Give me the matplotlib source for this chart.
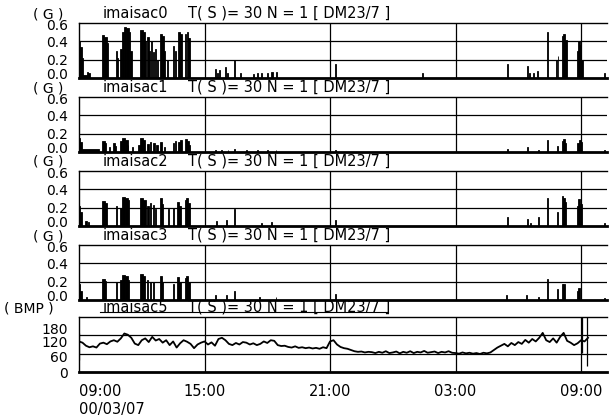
# Activity (G) of four accelerometers and heart rate over one day, stacked panels

import matplotlib
matplotlib.use('Agg')
import matplotlib.pyplot as plt
import matplotlib.transforms as mtransforms
import numpy as np

plt.rcParams['font.family'] = ['DejaVu Sans']

T_START = 9.0      # 09:00 on 00/03/07, hours
T_END = 34.24

# activity bursts per sensor: start hour, width (h), level (G)
acc0_t = [9.00, 9.06, 9.12, 9.20, 9.38, 9.43, 10.10, 10.20, 10.32, 10.76, 10.82, 10.96, 11.04, 11.14,
          11.26, 11.38, 11.46, 11.92, 12.04, 12.16, 12.25, 12.35, 12.44, 12.54, 12.62, 12.72, 12.87,
          12.95, 13.05, 13.20, 13.49, 13.58, 13.73, 13.83, 14.07, 14.15, 14.23, 15.50, 15.62, 15.70,
          15.98, 16.06, 16.40, 16.70, 17.30, 17.50, 17.72, 18.00, 18.20, 18.42, 21.22, 25.40, 29.44,
          30.40, 30.50, 30.70, 30.90, 31.35, 31.80, 31.88, 32.08, 32.16, 32.24, 32.80, 32.86, 32.96,
          33.02, 34.12]
acc0_w = [0.06, 0.06, 0.08, 0.16, 0.05, 0.08, 0.10, 0.12, 0.06, 0.04, 0.05, 0.08, 0.10, 0.12,
          0.12, 0.08, 0.05, 0.12, 0.12, 0.06, 0.10, 0.06, 0.04, 0.05, 0.06, 0.04, 0.08,
          0.10, 0.05, 0.05, 0.06, 0.05, 0.08, 0.10, 0.06, 0.08, 0.06, 0.05, 0.04, 0.05,
          0.04, 0.05, 0.04, 0.04, 0.05, 0.05, 0.04, 0.05, 0.05, 0.04, 0.05, 0.04, 0.05,
          0.05, 0.04, 0.05, 0.05, 0.06, 0.04, 0.04, 0.08, 0.08, 0.08, 0.06, 0.10, 0.06,
          0.06, 0.04]
acc0_v = [0.40, 0.34, 0.22, 0.03, 0.07, 0.05, 0.47, 0.45, 0.38, 0.30, 0.22, 0.32, 0.50, 0.56,
          0.54, 0.50, 0.30, 0.52, 0.50, 0.40, 0.45, 0.30, 0.40, 0.28, 0.32, 0.20, 0.48,
          0.46, 0.30, 0.20, 0.35, 0.30, 0.50, 0.48, 0.48, 0.50, 0.44, 0.10, 0.06, 0.09,
          0.12, 0.06, 0.20, 0.05, 0.04, 0.06, 0.05, 0.05, 0.07, 0.07, 0.15, 0.05, 0.15,
          0.13, 0.06, 0.05, 0.08, 0.50, 0.20, 0.24, 0.46, 0.48, 0.42, 0.30, 0.40, 0.36,
          0.20, 0.05]

acc1_t = [9.00, 9.06, 9.14, 10.10, 10.24, 10.45, 10.62, 10.70, 10.96, 11.06, 11.20, 11.32, 11.55,
          11.82, 11.92, 12.04, 12.25, 12.40, 12.54, 12.70, 12.87, 13.05, 13.49, 13.58, 13.73, 13.85,
          14.07, 14.17, 14.25, 15.50, 15.80, 16.10, 16.40, 17.00, 17.50, 18.00, 18.40, 21.24, 29.46,
          30.42, 30.95, 31.37, 31.85, 32.08, 32.16, 32.24, 32.82, 32.90, 33.00, 34.12]
acc1_w = [0.06, 0.08, 0.80, 0.14, 0.06, 0.05, 0.08, 0.05, 0.10, 0.14, 0.12, 0.04, 0.05,
          0.08, 0.12, 0.10, 0.08, 0.06, 0.10, 0.06, 0.10, 0.05, 0.06, 0.04, 0.08, 0.06,
          0.10, 0.08, 0.04, 0.04, 0.04, 0.04, 0.04, 0.04, 0.04, 0.04, 0.04, 0.04, 0.04,
          0.05, 0.04, 0.06, 0.05, 0.08, 0.08, 0.06, 0.08, 0.10, 0.06, 0.04]
acc1_v = [0.15, 0.11, 0.03, 0.12, 0.10, 0.06, 0.10, 0.07, 0.12, 0.15, 0.13, 0.08, 0.05,
          0.08, 0.15, 0.13, 0.09, 0.11, 0.10, 0.08, 0.11, 0.06, 0.10, 0.12, 0.11, 0.13,
          0.14, 0.12, 0.08, 0.02, 0.025, 0.02, 0.03, 0.02, 0.02, 0.025, 0.02, 0.02, 0.035,
          0.05, 0.025, 0.13, 0.07, 0.12, 0.145, 0.10, 0.10, 0.13, 0.11, 0.02]

acc2_t = [9.00, 9.06, 9.30, 9.42, 10.10, 10.22, 10.76, 10.96, 11.04, 11.18, 11.32, 11.92, 12.06,
          12.25, 12.40, 12.54, 12.62, 12.87, 12.97, 13.25, 13.50, 13.70, 13.80, 14.05, 14.13, 14.23,
          15.55, 16.05, 16.40, 17.70, 18.20, 21.24, 29.46, 30.40, 30.55, 30.92, 31.35, 31.85, 32.08,
          32.16, 32.24, 32.80, 32.86, 32.96, 34.12]
acc2_w = [0.06, 0.08, 0.06, 0.06, 0.12, 0.10, 0.05, 0.08, 0.14, 0.14, 0.08, 0.14, 0.12,
          0.08, 0.05, 0.06, 0.05, 0.10, 0.06, 0.06, 0.06, 0.10, 0.08, 0.08, 0.10, 0.06,
          0.04, 0.04, 0.04, 0.04, 0.04, 0.05, 0.05, 0.05, 0.06, 0.05, 0.06, 0.05, 0.08,
          0.08, 0.06, 0.06, 0.10, 0.08, 0.04]
acc2_v = [0.22, 0.15, 0.05, 0.04, 0.27, 0.25, 0.22, 0.20, 0.32, 0.30, 0.28, 0.30, 0.28,
          0.22, 0.25, 0.23, 0.18, 0.30, 0.24, 0.18, 0.20, 0.26, 0.22, 0.28, 0.30, 0.25,
          0.05, 0.06, 0.18, 0.03, 0.04, 0.06, 0.10, 0.08, 0.03, 0.10, 0.31, 0.15, 0.33,
          0.30, 0.26, 0.22, 0.29, 0.24, 0.03]

acc3_t = [9.00, 9.06, 9.35, 10.10, 10.22, 10.76, 10.96, 11.04, 11.18, 11.32, 11.92, 12.06, 12.25,
          12.40, 12.54, 12.87, 12.97, 13.50, 13.70, 13.80, 14.05, 14.13, 14.23, 15.50, 16.05, 16.40,
          17.60, 18.40, 21.24, 29.40, 30.36, 30.92, 31.35, 31.85, 32.08, 32.16, 32.80, 32.86, 34.12]
acc3_w = [0.06, 0.06, 0.05, 0.12, 0.08, 0.05, 0.08, 0.14, 0.14, 0.08, 0.14, 0.10, 0.06,
          0.06, 0.06, 0.10, 0.05, 0.05, 0.10, 0.06, 0.08, 0.10, 0.06, 0.04, 0.04, 0.04,
          0.04, 0.04, 0.05, 0.05, 0.05, 0.05, 0.06, 0.05, 0.08, 0.08, 0.06, 0.10, 0.04]
acc3_v = [0.17, 0.10, 0.03, 0.23, 0.21, 0.20, 0.22, 0.27, 0.26, 0.22, 0.28, 0.26, 0.22,
          0.20, 0.20, 0.26, 0.20, 0.18, 0.25, 0.20, 0.24, 0.26, 0.20, 0.05, 0.05, 0.10,
          0.03, 0.03, 0.065, 0.06, 0.06, 0.03, 0.23, 0.12, 0.18, 0.17, 0.10, 0.13, 0.02]

# heart rate (BMP), one reading every 10 min from 09:00
HR_STEP = 1 / 6
hr = [100, 96, 86, 81, 84, 80,
      93, 96, 91, 100, 104, 99,
      110, 126, 122, 112, 93, 88,
      104, 110, 98, 115, 103, 108,
      96, 104, 88, 100, 80, 94,
      104, 99, 92, 78, 90, 96,
      100, 90, 97, 86, 108, 112,
      104, 92, 88, 95, 90, 98,
      96, 90, 94, 88, 92, 100,
      95, 104, 102, 88, 85, 86,
      82, 80, 84, 79, 81, 78,
      80, 77, 79, 76, 81, 78,
      100, 104, 90, 82, 78, 76,
      72, 68, 66, 67, 64, 66,
      65, 62, 66, 63, 68, 62,
      64, 67, 61, 66, 63, 68,
      62, 66, 64, 69, 63, 65,
      67, 62, 66, 64, 68, 63,
      62, 60, 64, 61, 63, 60,
      62, 59, 63, 61, 64, 72,
      80, 86, 92, 84, 95, 88,
      98, 92, 105, 96, 108, 100,
      112, 128, 104, 98, 110, 96,
      115, 128, 102, 96, 88, 94,
      104, 100, 112]
# sensor dropouts seen as vertical strokes
hr_drop_t = [9.02, 33.03, 33.27]
hr_drop_lo = [40, 63, 20]
hr_drop_hi = [128, 180, 180]

G_TICKS = [0.0, 0.2, 0.4, 0.6]
G_LABELS = ['0.0', '0.2', '0.4', '0.6']
BMP_TICKS = [0, 60, 120, 180]
BMP_LABELS = ['0', '60', '120', '180']
HOUR_TICKS = [9, 15, 21, 27, 33]
HOUR_LABELS = ['09:00\n00/03/07', '15:00', '21:00', '03:00', '09:00']

ACC_PANELS = [
    ('imaisac0', acc0_t, acc0_w, acc0_v),
    ('imaisac1', acc1_t, acc1_w, acc1_v),
    ('imaisac2', acc2_t, acc2_w, acc2_v),
    ('imaisac3', acc3_t, acc3_w, acc3_v),
]
PARAMS = 'T( S )= 30 N = 1 [ DM23/7 ]'

W, H = 612, 416
PANEL_TOPS = [23, 97, 171, 245, 317]
PANEL_H = 55
LEFT, RIGHT = 79, 607
FS = 10.5
# the printed labels are squeezed together, shift in pixels (down +)
G_SHIFT = [-4.5, 0, 0, 2]
BMP_SHIFT = [0, 3, 6, 11]


def make_axes(fig, top):
    ax = fig.add_axes([LEFT / W, 1 - (top + PANEL_H) / H, (RIGHT - LEFT) / W, PANEL_H / H])
    ax.set_xlim(T_START, T_END)
    ax.spines['right'].set_visible(False)
    ax.spines['left'].set_linewidth(1.0)
    ax.spines['top'].set_linewidth(1.0)
    ax.spines['bottom'].set_linewidth(2.0)
    ax.tick_params(length=0, labelsize=FS, pad=8)
    ax.set_xticks(HOUR_TICKS[1:])
    ax.set_xticklabels([])
    for h in HOUR_TICKS[1:]:
        ax.axvline(h, color='black', lw=0.9, zorder=1)
    return ax


def set_ylabels(ax, ticks, labels, shifts):
    ax.set_yticks(ticks)
    ax.set_yticklabels(labels, fontsize=10, va='center_baseline')
    for lab, dy in zip(ax.get_yticklabels(), shifts):
        off = mtransforms.ScaledTranslation(0, -dy / 100, ax.figure.dpi_scale_trans)
        lab.set_transform(lab.get_transform() + off)


def label_panel(ax, unit, name, top, unit_x):
    y = 1 - (top - 10) / H
    ax.figure.text(unit_x / W, 1 - (top - 9) / H, unit, fontsize=10, ha='left', va='center')
    ax.figure.text(103 / W, y, name, fontsize=FS, ha='left', va='center')
    ax.figure.text(188 / W, y, PARAMS, fontsize=FS, ha='left', va='center')


def main():
    fig = plt.figure(figsize=(W / 100, H / 100), dpi=100)

    for i, (name, t, w, v) in enumerate(ACC_PANELS):
        top = PANEL_TOPS[i]
        ax = make_axes(fig, top)
        ax.set_ylim(0, 0.6)
        set_ylabels(ax, G_TICKS, G_LABELS, G_SHIFT)
        for g in G_TICKS[1:-1]:
            ax.axhline(g, color='black', lw=0.9, zorder=1)
        ax.bar(t, v, width=w, align='edge', color='black', edgecolor='black',
               linewidth=0.6, zorder=2)
        label_panel(ax, '( G )', name, top, 33)

    # heart rate panel
    top = PANEL_TOPS[4]
    ax = make_axes(fig, top)
    ax.set_ylim(0, 180)
    set_ylabels(ax, BMP_TICKS, BMP_LABELS, BMP_SHIFT)
    for g in BMP_TICKS[1:-1]:
        ax.axhline(g, color='black', lw=0.9, zorder=1)
    hr_t = T_START + np.arange(len(hr)) * HR_STEP
    ax.plot(hr_t, hr, color='black', lw=1.3, zorder=2)
    ax.vlines(hr_drop_t, hr_drop_lo, hr_drop_hi, color='black', lw=0.9, zorder=2)
    label_panel(ax, '( BMP )', 'imaisac5', top, 4)
    fig.add_artist(plt.Line2D([100 / W, 388 / W], [1 - 312 / H] * 2, color='black', lw=0.8))

    ax.set_xticks(HOUR_TICKS)
    ax.set_xticklabels(HOUR_LABELS, fontsize=FS, va='top')
    ax.get_xticklabels()[0].set_ha('left')
    ax.get_xticklabels()[0].set_multialignment('left')
    ax.tick_params(axis='x', pad=9)

    fig.savefig('out.png', dpi=100)


if __name__ == "__main__":
    main()
